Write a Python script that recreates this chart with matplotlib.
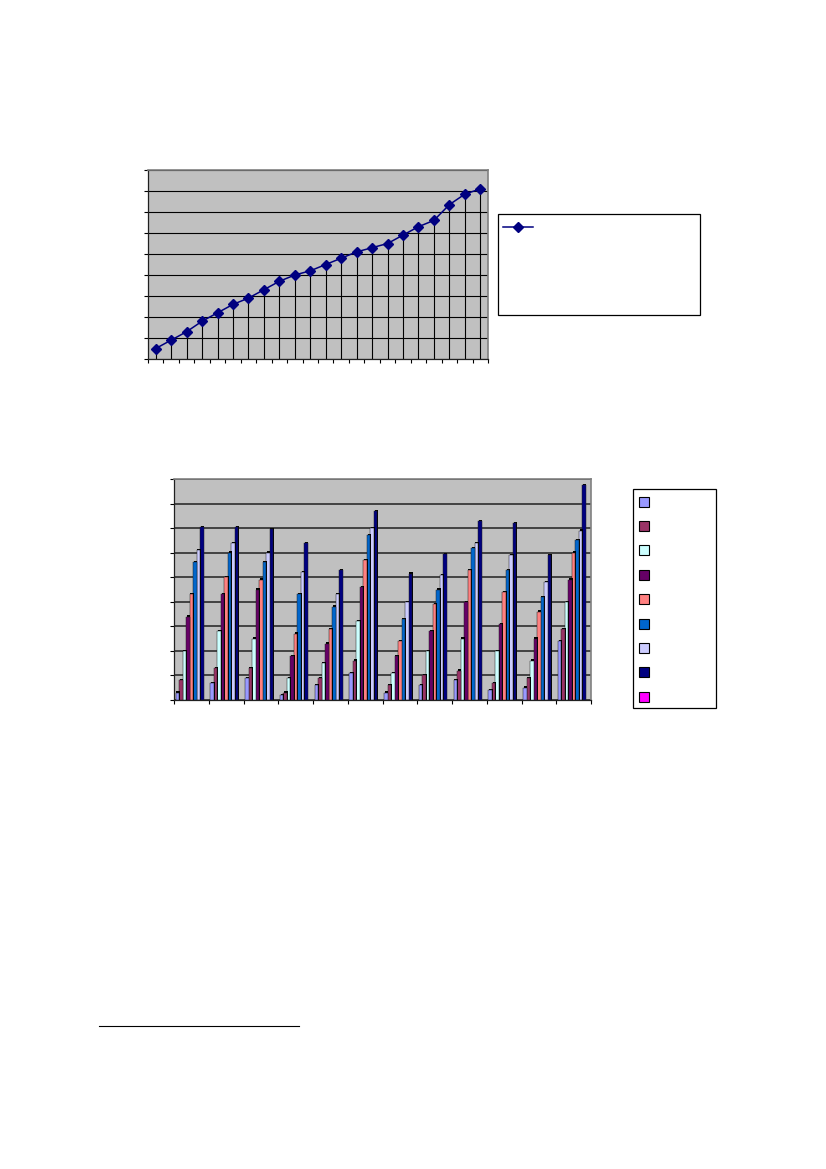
import numpy as np
import matplotlib
matplotlib.use("Agg")
import matplotlib.pyplot as plt
from matplotlib.patches import Rectangle

W, H = 826, 1169

# line chart values
line_vals = [0.5, 0.9, 1.3, 1.8, 2.2, 2.6, 2.9, 3.3, 3.7, 4.0, 4.2,
             4.5, 4.8, 5.1, 5.3, 5.5, 5.9, 6.3, 6.6, 7.35, 7.85, 8.1]

# bar chart values, one list per series, 12 groups
s1 = [0.3, 0.7, 0.9, 0.2, 0.6, 1.1, 0.3, 0.6, 0.8, 0.4, 0.5, 2.4]
s2 = [0.8, 1.3, 1.3, 0.3, 0.9, 1.6, 0.6, 1.0, 1.2, 0.7, 0.9, 2.9]
s3 = [2.0, 2.8, 2.5, 0.9, 1.5, 3.2, 1.1, 2.0, 2.5, 2.0, 1.6, 4.0]
s4 = [3.4, 4.3, 4.5, 1.8, 2.3, 4.6, 1.8, 2.8, 4.0, 3.1, 2.5, 4.9]
s5 = [4.3, 5.0, 4.9, 2.7, 2.9, 5.7, 2.4, 3.9, 5.3, 4.4, 3.6, 6.0]
s6 = [5.6, 6.0, 5.6, 4.3, 3.8, 6.7, 3.3, 4.5, 6.2, 5.3, 4.2, 6.5]
s7 = [6.1, 6.4, 6.0, 5.2, 4.3, 7.0, 4.0, 5.1, 6.4, 5.9, 4.8, 6.9]
s8 = [7.05, 7.05, 6.95, 6.4, 5.3, 7.7, 5.15, 5.95, 7.3, 7.2, 5.9, 8.75]
series = [s1, s2, s3, s4, s5, s6, s7, s8]
colors = ["#9999FF", "#993366", "#CCFFFF", "#660066", "#FF8080",
          "#0066CC", "#CCCCFF", "#000080", "#FF00FF"]


def add_axes_px(fig, left, top, right, bottom):
    return fig.add_axes([left / W, 1 - bottom / H, (right - left) / W, (bottom - top) / H])


def style_axes(ax, n, grid_color, grid_lw):
    ax.set_facecolor("#C0C0C0")
    ax.set_xlim(0, n)
    ax.set_ylim(0, 9)
    ax.set_xticks(np.arange(n + 1))
    ax.set_yticks(np.arange(10))
    ax.tick_params(length=3, width=0.8, color="black", labelbottom=False, labelleft=False)
    ax.grid(axis="y", color=grid_color, lw=grid_lw)
    ax.set_axisbelow(True)
    for side in ["top", "right"]:
        ax.spines[side].set_color("#808080")
        ax.spines[side].set_linewidth(1.2)
    for side in ["left", "bottom"]:
        ax.spines[side].set_color("#202020")
        ax.spines[side].set_linewidth(0.9)


fig = plt.figure(figsize=(W / 100, H / 100), dpi=100, facecolor="white")

# top chart
ax1 = add_axes_px(fig, 148, 170, 488, 359)
style_axes(ax1, len(line_vals), "black", 0.8)
x = np.arange(len(line_vals)) + 0.5
ax1.vlines(x, 0, line_vals, color="black", lw=0.8, zorder=2)
ax1.plot(x, line_vals, color="#000080", lw=1.1, marker="D", ms=5, zorder=3, clip_on=False)

# bottom chart
ax2 = add_axes_px(fig, 174, 479, 591, 700)
style_axes(ax2, len(s1), "#383838", 1.3)
bar_w = 0.1
gap = 0.05
xpos = np.arange(len(s1))
for i, vals in enumerate(series):
    bx = xpos + gap + i * bar_w
    vals = np.array(vals)
    # 3d look: thin dark side and cap, each bar sits over the next one's left edge
    z = 3 - i * 0.1
    ax2.bar(bx + 0.02, vals + 0.05, width=bar_w, align="edge", color="black", zorder=z)
    ax2.bar(bx, vals, width=bar_w, align="edge", color=colors[i], edgecolor="#202020",
            lw=0.35, zorder=z + 0.05)

# legends and the footnote rule, in page pixels
page = fig.add_axes([0, 0, 1, 1], facecolor="none")
page.set_xlim(0, W)
page.set_ylim(H, 0)
page.axis("off")
page.add_patch(Rectangle((497.5, 213.5), 202, 101, fc="white", ec="black", lw=0.9))
page.plot([503, 533], [227, 227], color="#000080", lw=1.1)
page.plot([518], [227], color="#000080", marker="D", ms=5)
page.add_patch(Rectangle((632.5, 488.5), 83, 219, fc="white", ec="black", lw=0.9))
for i, c in enumerate(colors):
    page.add_patch(Rectangle((638.5, 496.5 + i * 24.4), 10, 10, fc=c, ec="black", lw=0.8))
page.plot([98.5, 298.5], [1026, 1026], color="black", lw=0.8)

fig.savefig("out.png", dpi=100)
